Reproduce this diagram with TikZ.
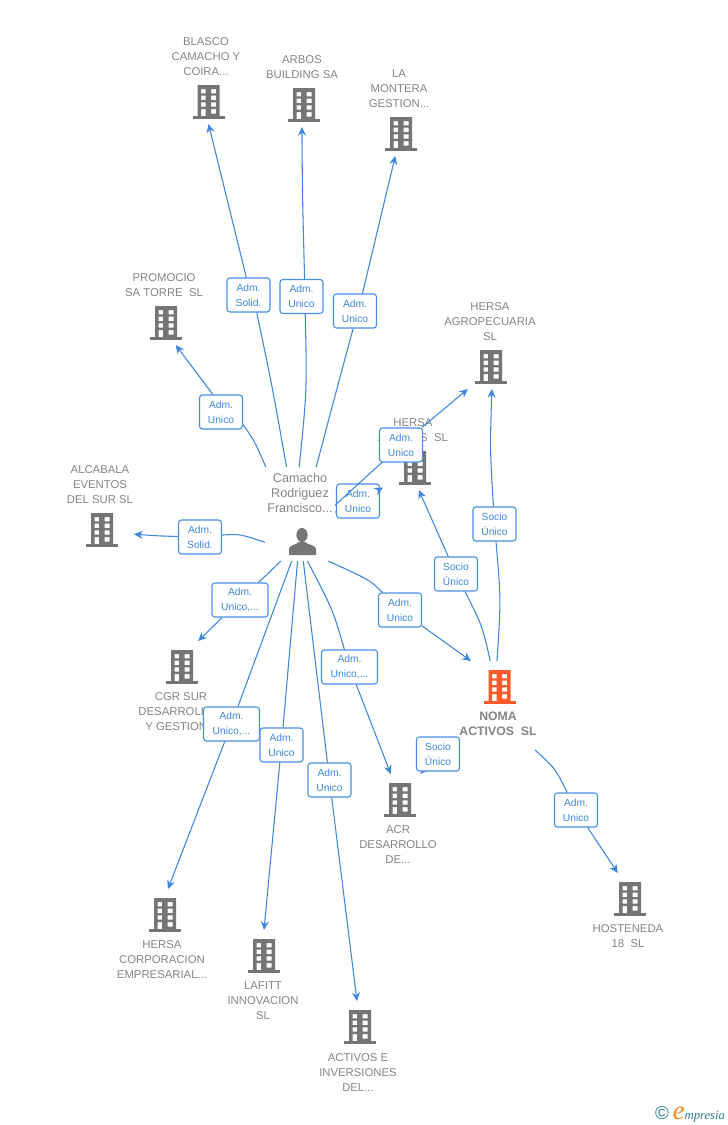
\documentclass[tikz,border=0pt]{standalone}
\usepackage{fontspec}
\setmainfont{Liberation Sans}
\newfontfamily\logofont{Liberation Serif}
\usepackage{xcolor}
\definecolor{linkblue}{HTML}{3F86DE}
\definecolor{boxblue}{HTML}{4A8FE2}
\definecolor{iconGray}{HTML}{757575}
\definecolor{textGray}{HTML}{858585}
\definecolor{nomaOrange}{HTML}{FF5A2B}
\definecolor{logoTeal}{HTML}{2F7F93}
\definecolor{logoOrange}{HTML}{F58A1F}
\usetikzlibrary{arrows.meta}
\newcommand{\bldgicon}[1]{
        \fill[#1,even odd rule,x=.75pt,y=-.75pt,shift={(path picture bounding box.center)}]
        (-11,-15) rectangle (11,16)
        (-7.5,-11) rectangle (-3,-6.7) (2.5,-11) rectangle (7.5,-6.7)
        (-7.5,-4.3) rectangle (-3,0) (2.5,-4.3) rectangle (7.5,0)
        (-7.5,2.3) rectangle (-3,6.7) (2.5,2.3) rectangle (7.5,6.7)
        (-7.5,9) rectangle (-3,16) (2.5,9) rectangle (7.5,13.5);
        \fill[#1,x=.75pt,y=-.75pt,shift={(path picture bounding box.center)}] (-16,16) rectangle (16,19);
}
\newcommand{\personicon}{
        \fill[iconGray,x=.75pt,y=-.75pt,shift={(path picture bounding box.center)}]
        (2,21) ellipse (5.6 and 7)
        (-11,41) -- (-11,35) .. controls (-11,31) and (-4,31) .. (-1,28) -- (5,28) .. controls (8,31) and (16,31) .. (16,35) -- (16,41) -- cycle;
}
\begin{document}
\begin{tikzpicture}[x=.75pt,y=-.75pt,
        bldg/.style={rectangle,minimum width=48pt,minimum height=36pt,inner sep=0pt,outer sep=0pt,path picture={\bldgicon{#1}}},
        bldg/.default=iconGray,
        person/.style={rectangle,minimum width=52.5pt,minimum height=70.5pt,inner sep=0pt,outer sep=0pt,path picture={\personicon}},
        txt/.style={align=center,inner sep=0pt,text=textGray,font=\fontsize{8.5}{11.25}\selectfont},
        edge/.style={draw=linkblue,line width=.8pt,-{Stealth[length=6.5pt,width=6pt]}},
        line/.style={draw=linkblue,line width=.8pt},
        lbl/.style={draw=boxblue,fill=white,line width=.85pt,rounded corners=2.2pt,align=center,inner sep=0pt,minimum width=32.25pt,minimum height=25.5pt,text=linkblue,font=\fontsize{7.7}{11.25}\selectfont},
        wide/.style={lbl,minimum width=42pt}]
        \path[use as bounding box,fill=white] (0,0) rectangle (728,1125);
        % companies
        \node[bldg] (blasco) at (208.5,100) {};
        \node[bldg] (arbos) at (304,103) {};
        \node[bldg] (montera) at (401,132) {};
        \node[bldg] (promocio) at (166,321) {};
        \node[bldg] (agro) at (491,365) {};
        \node[bldg] (hersas) at (415,466) {};
        \node[bldg] (alcabala) at (102,528) {};
        \node[bldg] (cgr) at (182,665) {};
        \node[bldg=nomaOrange] (noma) at (499.5,685) {};
        \node[bldg] (acr) at (400,798) {};
        \node[bldg] (hosteneda) at (630,897) {};
        \node[bldg] (corporacion) at (165,913) {};
        \node[bldg] (lafitt) at (264,954) {};
        \node[bldg] (activos) at (360,1025) {};
        \node[person] (camacho) at (300,514) {};
        \node[txt] (tblasco) at (206,57) {BLASCO\\CAMACHO Y\\COIRA...};
        \node[txt] (tarbos) at (302,67) {ARBOS\\BUILDING SA};
        \node[txt] (tmontera) at (399,89) {LA\\MONTERA\\GESTION...};
        \node[txt] (tpromocio) at (164,285) {PROMOCIO\\SA TORRE\ \ SL};
        \node[txt] (tagro) at (490,322) {HERSA\\AGROPECUARIA\\SL};
        \node[txt] (thersas) at (413,430) {HERSA\\ACTIVOS\ \ SL};
        \node[txt] (talcabala) at (100,485) {ALCABALA\\EVENTOS\\DEL SUR SL};
        \node[txt] (tcgr) at (181,712) {CGR SUR\\DESARROLLOS\\Y GESTION...};
        \node[txt,font=\fontsize{9.2}{11.25}\selectfont\bfseries] (tnoma) at (498,723.5) {NOMA\\ACTIVOS\ \ SL};
        \node[txt] (tacr) at (398,845) {ACR\\DESARROLLO\\DE...};
        \node[txt] (thosteneda) at (628,936) {HOSTENEDA\\18\ \ SL};
        \node[txt] (tcorporacion) at (162,960) {HERSA\\CORPORACION\\EMPRESARIAL...};
        \node[txt] (tlafitt) at (263,1001) {LAFITT\\INNOVACION\\SL};
        \node[txt] (tactivos) at (358,1073) {ACTIVOS E\\INVERSIONES\\DEL...};
        \node[txt,font=\fontsize{9.5}{11.25}\selectfont] (tcamacho) at (300,493) {Camacho\\Rodriguez\\Francisco...};
        % links of the person
        \node[lbl] (l1) at (248.5,295) {Adm.\\Solid.};
        \draw[line] (camacho.106.6) .. controls (272,385) .. (l1.295);
        \draw[edge] (l1.97) -- (blasco.270);
        \node[lbl] (l2) at (301.5,296.5) {Adm.\\Unico};
        \draw[line] (camacho.91) .. controls (307,390) .. (l2.282);
        \draw[edge] (l2.80) .. controls (302.5,200) .. (arbos.265);
        \node[lbl] (l3) at (355,311) {Adm.\\Unico};
        \draw[line] (camacho.71) .. controls (336,392) .. (l3.264);
        \draw[edge] (l3.67) -- (montera);
        \node[lbl] (l4) at (221,412) {Adm.\\Unico};
        \draw[line] (camacho.126) .. controls (254,440) .. (l4.-30);
        \draw[edge] (l4.115) -- (promocio.292);
        \node[lbl] (l5) at (200,537) {Adm.\\Solid.};
        \draw[line] (camacho.219.5) .. controls (240,534) .. (l5.5);
        \draw[edge] (l5) .. controls (160,536) .. (alcabala.349);
        \node[wide] (l6) at (240,600) {Adm.\\Unico,...};
        \draw[line] (camacho.248) -- (l6);
        \draw[edge] (l6) -- (cgr.56);
        \node[wide] (l7) at (231.5,724) {Adm.\\Unico,...};
        \draw[line] (camacho.260) -- (l7);
        \draw[edge] (l7) -- (corporacion.83);
        \node[lbl] (l8) at (281.5,745) {Adm.\\Unico};
        \draw[line] (camacho.267.6) -- (l8);
        \draw[edge] (l8) -- (lafitt.90);
        \node[lbl] (l9) at (329.5,780) {Adm.\\Unico};
        \draw[line] (camacho.274.9) -- (l9);
        \draw[edge] (l9) -- (activos);
        \node[wide] (l10) at (349.5,667) {Adm.\\Unico,...};
        \draw[line] (camacho.279.7) .. controls (333,610) .. (l10);
        \draw[edge] (l10) -- (acr);
        \node[lbl] (l11) at (400,610) {Adm.\\Unico};
        \draw[line] (camacho.301) .. controls (370,580) .. (l11);
        \draw[edge] (l11) -- (noma.140);
        \node[lbl] (l12) at (358,501) {Adm.\\Unico};
        \draw[line] (camacho.3) -- (l12);
        \draw[edge] (l12) -- (hersas.214.5);
        \coordinate (agrolink) at (401,445);
        \draw[line] (camacho.14.4) -- (agrolink);
        \node[lbl] (l13) at (agrolink) {Adm.\\Unico};
        \draw[edge] (l13) -- (agro.226);
        % links of the orange company
        \node[lbl] (l14) at (494.5,524) {Socio\\Único};
        \draw[line] (noma.96) .. controls (501,600) .. (l14);
        \draw[edge] (l14) .. controls (490,450) .. (agro.272);
        \node[lbl] (l15) at (456,574) {Socio\\Único};
        \draw[line] (noma.111) .. controls (482,625) .. (l15);
        \draw[edge] (l15) -- (hersas.279.5);
        \coordinate (nomaacr) at (452,737);
        \draw[edge] (nomaacr) -- (acr);
        \node[lbl] (l16) at (438,754) {Socio\\Único};
        \coordinate (nomahost) at (535,750);
        \node[lbl] (l17) at (576,810) {Adm.\\Unico};
        \draw[line] (nomahost) .. controls (555,768) .. (l17);
        \draw[edge] (l17) -- (hosteneda.117);
        \node[inner sep=0pt,text=logoTeal,font=\logofont\itshape\fontsize{9.5}{12}\selectfont] (logo) at (690,1114) {{\fontspec{Liberation Sans}\upshape\fontsize{14}{12}\selectfont ©}\hspace{3pt}{\color{logoOrange}\fontsize{20}{12}\selectfont e}mpresia};
\end{tikzpicture}
\end{document}
